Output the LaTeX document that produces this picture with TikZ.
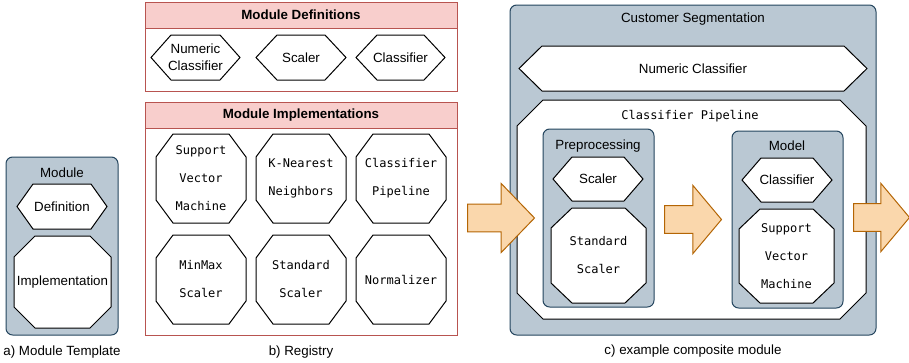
\documentclass[tikz,border=0pt]{standalone}
\usepackage{fontspec}
\setmainfont{Liberation Sans}
\setmonofont{DejaVu Sans Mono}
\usetikzlibrary{shapes.arrows}
\usetikzlibrary{positioning}

\definecolor{groupfill}{HTML}{BAC8D3}
\definecolor{groupline}{HTML}{23445D}
\definecolor{regline}{HTML}{B85450}
\definecolor{regfill}{HTML}{F8CECC}
\definecolor{arrowfill}{HTML}{FAD7AC}
\definecolor{arrowline}{HTML}{B46504}

% hexagon: name, x1, y1, x2, y2, cut, style, text
\newcommand{\hexnode}[8]{%
   \draw[shapeline] (#2,{(#3+#5)/2}) -- (#2+#6,#3) -- (#4-#6,#3)
      -- (#4,{(#3+#5)/2}) -- (#4-#6,#5) -- (#2+#6,#5) -- cycle;
   \node[#7] (#1) at ({(#2+#4)/2},{(#3+#5)/2}) {#8};}

% octagon: name, x1, y1, x2, y2, xcut, ycut, style, text
\newcommand{\octnode}[9]{%
   \draw[shapeline] (#2+#6,#3) -- (#4-#6,#3) -- (#4,#3+#7) -- (#4,#5-#7)
      -- (#4-#6,#5) -- (#2+#6,#5) -- (#2,#5-#7) -- (#2,#3+#7) -- cycle;
   \node[#8] (#1) at ({(#2+#4)/2},{(#3+#5)/2}) {#9};}

\begin{document}
\begin{tikzpicture}[
         x=0.75pt, y=-0.75pt,
         line width=0.75pt,
         font=\fontsize{10}{12}\selectfont,
         greybox/.style = {draw=groupline, fill=groupfill, rounded corners=5pt},
         regbox/.style = {draw=regline, fill=white},
         reghead/.style = {draw=regline, fill=regfill},
         shapeline/.style = {draw=black, fill=white},
         plaintext/.style = {inner sep=0pt, align=center},
         twoline/.style = {inner sep=0pt, align=center,
         font=\fontsize{10}{12.75}\selectfont},
         headtext/.style = {inner sep=0pt, font=\bfseries},
         monotext/.style = {inner sep=0pt, align=center,
         font=\ttfamily\fontsize{9}{21}\selectfont},
         bigarrow/.style = {single arrow, draw=arrowline, fill=arrowfill,
         inner xsep=0pt, inner ysep=10.1pt, text height=0pt, text depth=0pt,
         single arrow head extend=15.2pt, anchor=tail}
]
         \useasboundingbox (0,0) rectangle (909,362);

         % a) module template
         \draw[greybox] (6,157) rectangle (118,335);
         \node[plaintext] (mtitle) at (62,173) {Module};
         \hexnode{mdef}{17}{184}{107}{229}{16}{plaintext}{Definition}
         \octnode{mimpl}{14}{236}{111}{328}{21}{21}{plaintext}{Implementation}
         \node[plaintext] (capa) at (62,352) {a) Module Template};

         % b) registry, definitions
         \draw[regbox] (145,2) rectangle (457,91);
         \draw[reghead] (145,2) rectangle (457,28);
         \node[headtext] (deftitle) at (301,15) {Module Definitions};
         \hexnode{dnum}{151}{35}{240}{80}{20}{twoline}{Numeric\\Classifier}
         \hexnode{dscal}{256}{35}{346}{80}{21}{plaintext}{Scaler}
         \hexnode{dclass}{356}{35}{445}{80}{21}{plaintext}{Classifier}

         % b) registry, implementations
         \draw[regbox] (145,102) rectangle (457,335);
         \draw[reghead] (145,102) rectangle (457,128);
         \node[headtext] (impltitle) at (301,115) {Module Implementations};
         \octnode{isvm}{156}{134}{246}{223}{17}{23}{monotext}{Support\\Vector\\Machine}
         \octnode{iknn}{256}{134}{346}{223}{17}{23}{monotext}{K-Nearest\\Neighbors}
         \octnode{ipipe}{356}{134}{446}{223}{17}{23}{monotext}{Classifier\\Pipeline}
         \octnode{iminmax}{156}{235}{246}{324}{17}{23}{monotext}{MinMax\\Scaler}
         \octnode{istd}{256}{235}{346}{324}{17}{23}{monotext}{Standard\\Scaler}
         \octnode{inorm}{356}{235}{446}{324}{17}{23}{monotext}{Normalizer}
         \node[plaintext] (capb) at (301,352) {b) Registry};

         % c) composite module
         \draw[greybox] (510,5) rectangle (876,335);
         \node[plaintext] (ctitle) at (693,19) {Customer Segmentation};
         \hexnode{cdef}{519}{46}{867}{91}{23}{plaintext}{Numeric Classifier}
         \octnode{cpipe}{517}{100}{866}{319}{26}{26}{inner sep=0pt}{}
         \node[monotext] (pipetitle) at (690,116) {Classifier Pipeline};

         % preprocessing step
         \draw[greybox] (543,129) rectangle (654,307);
         \node[plaintext] (pretitle) at (598,146) {Preprocessing};
         \hexnode{predef}{553}{157}{643}{201}{19}{plaintext}{Scaler}
         \octnode{preimpl}{551}{208}{646}{303}{21}{20}{monotext}{Standard\\Scaler}

         % model step
         \draw[greybox] (732,131) rectangle (843,308);
         \node[plaintext] (modtitle) at (787,146) {Model};
         \hexnode{moddef}{742}{158}{832}{202}{19}{plaintext}{Classifier}
         \octnode{modimpl}{739}{209}{834}{303}{21}{20}{monotext}{Support\\Vector\\Machine}
         \node[plaintext] (capc) at (693,351) {c) example composite module};

         % block arrows
         \node[bigarrow, minimum height=50.25pt, single arrow tip angle=92,
         single arrow head extend=15.4pt] (arrin) at (467,218) {};
         \node[bigarrow, minimum height=42.75pt, single arrow tip angle=100]
         (arrmid) at (664,219.5) {};
         \node[bigarrow, minimum height=42pt, single arrow tip angle=100]
         (arrout) at (853,217.5) {};
\end{tikzpicture}
\end{document}
